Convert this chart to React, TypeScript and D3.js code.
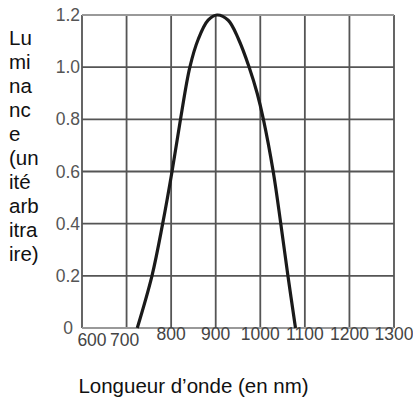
import React from "react";
import * as d3 from "d3";

const xTicks = [600, 700, 800, 900, 1000, 1100, 1200, 1300];
const yTicks = [0, 0.2, 0.4, 0.6, 0.8, 1.0, 1.2];
const yTickLabels = ["0", "0.2", "0.4", "0.6", "0.8", "1.0", "1.2"];
// curve points (wavelength nm, luminance), ordered along the path
const curveNm = [724, 757, 781, 802, 821, 842, 861, 883, 903, 928, 951, 975, 993, 1007, 1029, 1046, 1062, 1079];
const curveLum = [0, 0.2, 0.4, 0.6, 0.8, 1.0, 1.108, 1.18, 1.2, 1.18, 1.108, 1.0, 0.9, 0.8, 0.6, 0.4, 0.2, 0];
const yTitleLines = ["Lu", "mi", "na", "nc", "e", "(un", "ité", "arb", "itra", "ire)"];
const xTitle = "Longueur d\u2019onde (en nm)";

const W = 413, H = 403;
const L = 82, R = 394, T = 15, B = 328;

export default function App() {
  const x = d3.scaleLinear().domain([600, 1300]).range([L, R]);
  const y = d3.scaleLinear().domain([0, 1.2]).range([B, T]);
  const pts: [number, number][] = curveNm.map((n, i) => [n, curveLum[i]]);
  const line = d3
    .line<[number, number]>()
    .x((d) => x(d[0]))
    .y((d) => y(d[1]))
    .curve(d3.curveCatmullRom.alpha(0.5));
  const font = "'Liberation Sans', Arial, sans-serif";
  return (
    <svg
      width={W}
      height={H}
      style={{ position: "absolute", left: 0, top: 0, background: "#fff" }}
      fontFamily={font}
    >
      {/* vertical grid */}
      {xTicks.map((t) => (
        <line
          key={"vx" + t}
          x1={x(t)}
          x2={x(t)}
          y1={T}
          y2={B}
          stroke="#555"
          strokeWidth={1.8}
        />
      ))}
      {/* horizontal grid */}
      {yTicks.map((t, i) => (
        <line
          key={"hy" + t}
          x1={L}
          x2={R}
          y1={y(t)}
          y2={y(t)}
          stroke={i === 0 || i === yTicks.length - 1 ? "#999" : "#555"}
          strokeWidth={1.8}
        />
      ))}
      {/* y tick labels */}
      {yTicks.map((t, i) => (
        <text
          key={"yl" + t}
          x={i === 0 ? 73 : L - 2}
          y={y(t) + 6}
          fontSize={17.5}
          fill="#555"
          textAnchor="end"
        >
          {yTickLabels[i]}
        </text>
      ))}
      {/* x tick labels */}
      {xTicks.map((t, i) => (
        <text
          key={"xl" + t}
          x={x(t) + (i === 0 ? 10 : i === 1 ? -2 : 0)}
          y={i < 2 ? 346 : 340}
          fontSize={17.5}
          fill="#444"
          textAnchor="middle"
        >
          {t}
        </text>
      ))}
      {/* curve */}
      <path d={line(pts) || ""} fill="none" stroke="#1a1a1a" strokeWidth={3.2} />
      {/* y title */}
      {yTitleLines.map((s, i) => (
        <text key={"yt" + i} x={9} y={45 + i * 24} fontSize={20.5} fill="#111">
          {s}
        </text>
      ))}
      {/* x title */}
      <text x={193.5} y={393} fontSize={20.5} fill="#111" textAnchor="middle">
        {xTitle}
      </text>
    </svg>
  );
}
